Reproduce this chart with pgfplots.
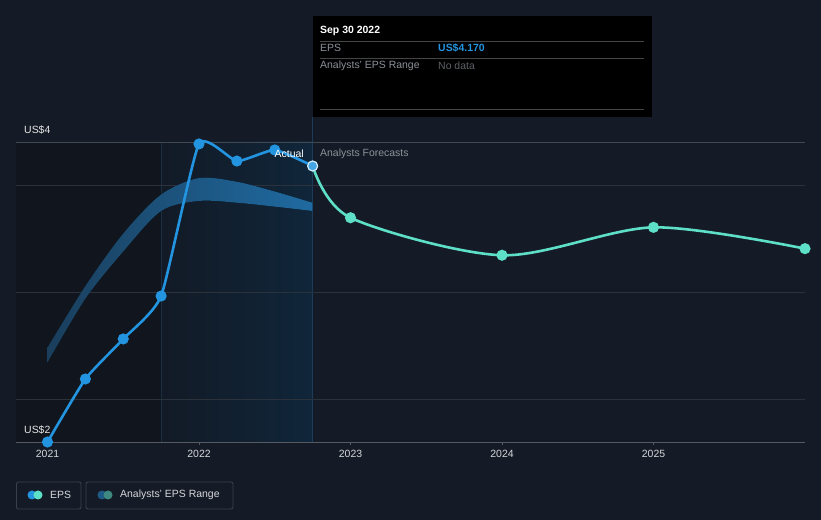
\documentclass[border=0pt]{standalone}
\usepackage{pgfplots}
\pgfplotsset{compat=1.18}
\usepgfplotslibrary{fillbetween}
\usepackage{fontspec}
\setmainfont{Liberation Sans}

\definecolor{bg}{HTML}{151B26}
\definecolor{leftdark}{HTML}{11161E}
\definecolor{actL}{HTML}{121A26}
\definecolor{actR}{HTML}{10263A}
\definecolor{gridc}{HTML}{2C323C}
\definecolor{gridtop}{HTML}{424851}
\definecolor{axisc}{HTML}{555A62}
\definecolor{epsblue}{HTML}{2394DF}
\definecolor{fcteal}{HTML}{5EE0C8}
\definecolor{bandL}{HTML}{1A3E5C}
\definecolor{bandR}{HTML}{1F6AA1}
\definecolor{hoverline}{HTML}{1B3C5A}
\definecolor{ticktxt}{HTML}{D5D7DA}
\definecolor{greytxt}{HTML}{8C9198}
\definecolor{dimtxt}{HTML}{5E6166}
\definecolor{legbox}{HTML}{3A404B}
\definecolor{legband}{HTML}{1D5A86}
\definecolor{legteal}{HTML}{3E8A80}

\begin{document}%
\pagecolor{bg}%
\begin{tikzpicture}[font=\fontsize{10.5}{12}\selectfont]

\begin{axis}[
  at={(16bp,78bp)}, anchor=south west,
  scale only axis, width=789bp, height=315bp,
  xmin=2020.792, xmax=2026.0, ymin=2, ymax=4.1,
  set layers,
  axis x line*=bottom, axis y line*=left,
  y axis line style={draw=none},
  x axis line style={color=axisc, line width=0.8pt},
  xtick={2021,2022,2023,2024,2025},
  /pgf/number format/assume math mode=true,
  /pgf/number format/1000 sep={},
  tick align=outside, major tick length=3bp,
  xtick style={color=axisc},
  xticklabel style={color=ticktxt, font=\fontsize{10.5}{12}\selectfont, yshift=-2bp},
  ytick={2.2867,3,3.7133}, yticklabels={},
  ytick style={draw=none},
  ymajorgrids, grid style={color=gridc, line width=0.8pt},
  extra y ticks={4}, extra y tick labels={},
  extra y tick style={grid style={color=gridtop, line width=0.8pt}, tick style={draw=none}},
]
\begin{pgfonlayer}{axis background}
  \fill[leftdark] (axis cs:2020.792,2) rectangle (axis cs:2021.75,4);
  \shade[left color=actL, right color=actR] (axis cs:2021.75,2) rectangle (axis cs:2022.75,4);
  \draw[color=hoverline!60!actL, line width=0.6pt] (axis cs:2021.75,2) -- (axis cs:2021.75,4);
  \draw[color=hoverline, line width=1.5pt] (axis cs:2022.75,2) -- (axis cs:2022.75,4.1);
\end{pgfonlayer}

% analysts' EPS range (upper and lower edge)
\addplot[name path=up, draw=none, smooth, forget plot] coordinates {
  (2021,2.63) (2021.25,3.04) (2021.5,3.39) (2021.75,3.65)
  (2022,3.76) (2022.25,3.735) (2022.5,3.67) (2022.75,3.595)};
\addplot[name path=lo, draw=none, smooth, forget plot] coordinates {
  (2021,2.53) (2021.25,2.955) (2021.5,3.27) (2021.75,3.54)
  (2022,3.607) (2022.25,3.595) (2022.5,3.569) (2022.75,3.54)};
\addplot[left color=bandL, middle color=bandR, right color=bandR, draw=none, forget plot]
  fill between[of=up and lo];

% actual EPS
\addplot[color=epsblue, line width=2.6pt, smooth, tension=0.3,
  mark=*, mark size=4.2bp, mark options={fill=epsblue, draw=none}]
  coordinates {
  (2021,2.0) (2021.25,2.42) (2021.5,2.687) (2021.75,2.973)
  (2022,3.987) (2022.25,3.873) (2022.5,3.947) (2022.75,3.84)};

% forecast EPS
\addplot[color=fcteal, line width=2.6pt, smooth, tension=0.5,
  mark=*, mark size=4.2bp, mark options={fill=fcteal, draw=none},
  mark indices={2,3,4,5}]
  coordinates {
  (2022.75,3.84) (2023,3.495) (2024,3.245) (2025,3.431) (2026,3.289)};

% hovered point
\addplot[only marks, mark=*, mark size=5bp,
  mark options={fill=epsblue!85!white, draw=white!85!epsblue, line width=1.1pt}]
  coordinates {(2022.75,3.84)};
\end{axis}

% hover line above axis
\draw[color=hoverline, line width=1.5pt] (312.6bp,378bp) -- (312.6bp,403bp);

% y labels
\node[anchor=west, text=white!90!black, inner sep=0pt] at (24bp,390bp) {US\$4};
\node[anchor=west, text=white!90!black, inner sep=0pt] at (24bp,90bp) {US\$2};

% section labels
\node[anchor=east, text=white, inner sep=0pt] at (304bp,366bp) {Actual};
\node[anchor=west, text=greytxt, inner sep=0pt] at (320bp,366bp) {Analysts Forecasts};

% tooltip
\fill[black] (313bp,504bp) rectangle (652bp,403bp);
\node[anchor=west, text=white, inner sep=0pt, font=\fontsize{10.5}{12}\selectfont\bfseries] at (320bp,489bp) {Sep 30 2022};
\draw[color=white!27!black, line width=0.8pt] (320bp,479bp) -- (644bp,479bp);
\node[anchor=west, text=greytxt, inner sep=0pt] at (320bp,472bp) {EPS};
\node[anchor=west, text=epsblue, inner sep=0pt, font=\fontsize{10.5}{12}\selectfont\bfseries] at (438bp,472bp) {US\$4.170};
\draw[color=white!27!black, line width=0.8pt] (320bp,462bp) -- (644bp,462bp);
\node[anchor=west, text=greytxt, inner sep=0pt] at (320bp,454bp) {Analysts' EPS Range};
\node[anchor=west, text=dimtxt, inner sep=0pt] at (438bp,454bp) {No data};
\draw[color=white!27!black, line width=0.8pt] (320bp,411bp) -- (644bp,411bp);

% legend
\draw[color=legbox, line width=0.9pt, rounded corners=2bp] (16.5bp,38bp) rectangle (81bp,11bp);
\fill[epsblue] (32bp,25bp) circle (4.5bp);
\fill[fcteal] (38bp,25bp) circle (4.5bp);
\node[anchor=west, text=ticktxt, inner sep=0pt] at (50bp,25bp) {EPS};
\draw[color=legbox, line width=0.9pt, rounded corners=2bp] (86bp,38bp) rectangle (233bp,11bp);
\fill[legband] (102bp,25bp) circle (4.5bp);
\fill[legteal] (108bp,25bp) circle (4.5bp);
\node[anchor=west, text=ticktxt, inner sep=0pt] at (120bp,25bp) {Analysts' EPS Range};

\pgfresetboundingbox
\useasboundingbox (0,0) rectangle (821bp,520bp);
\end{tikzpicture}%
\end{document}
